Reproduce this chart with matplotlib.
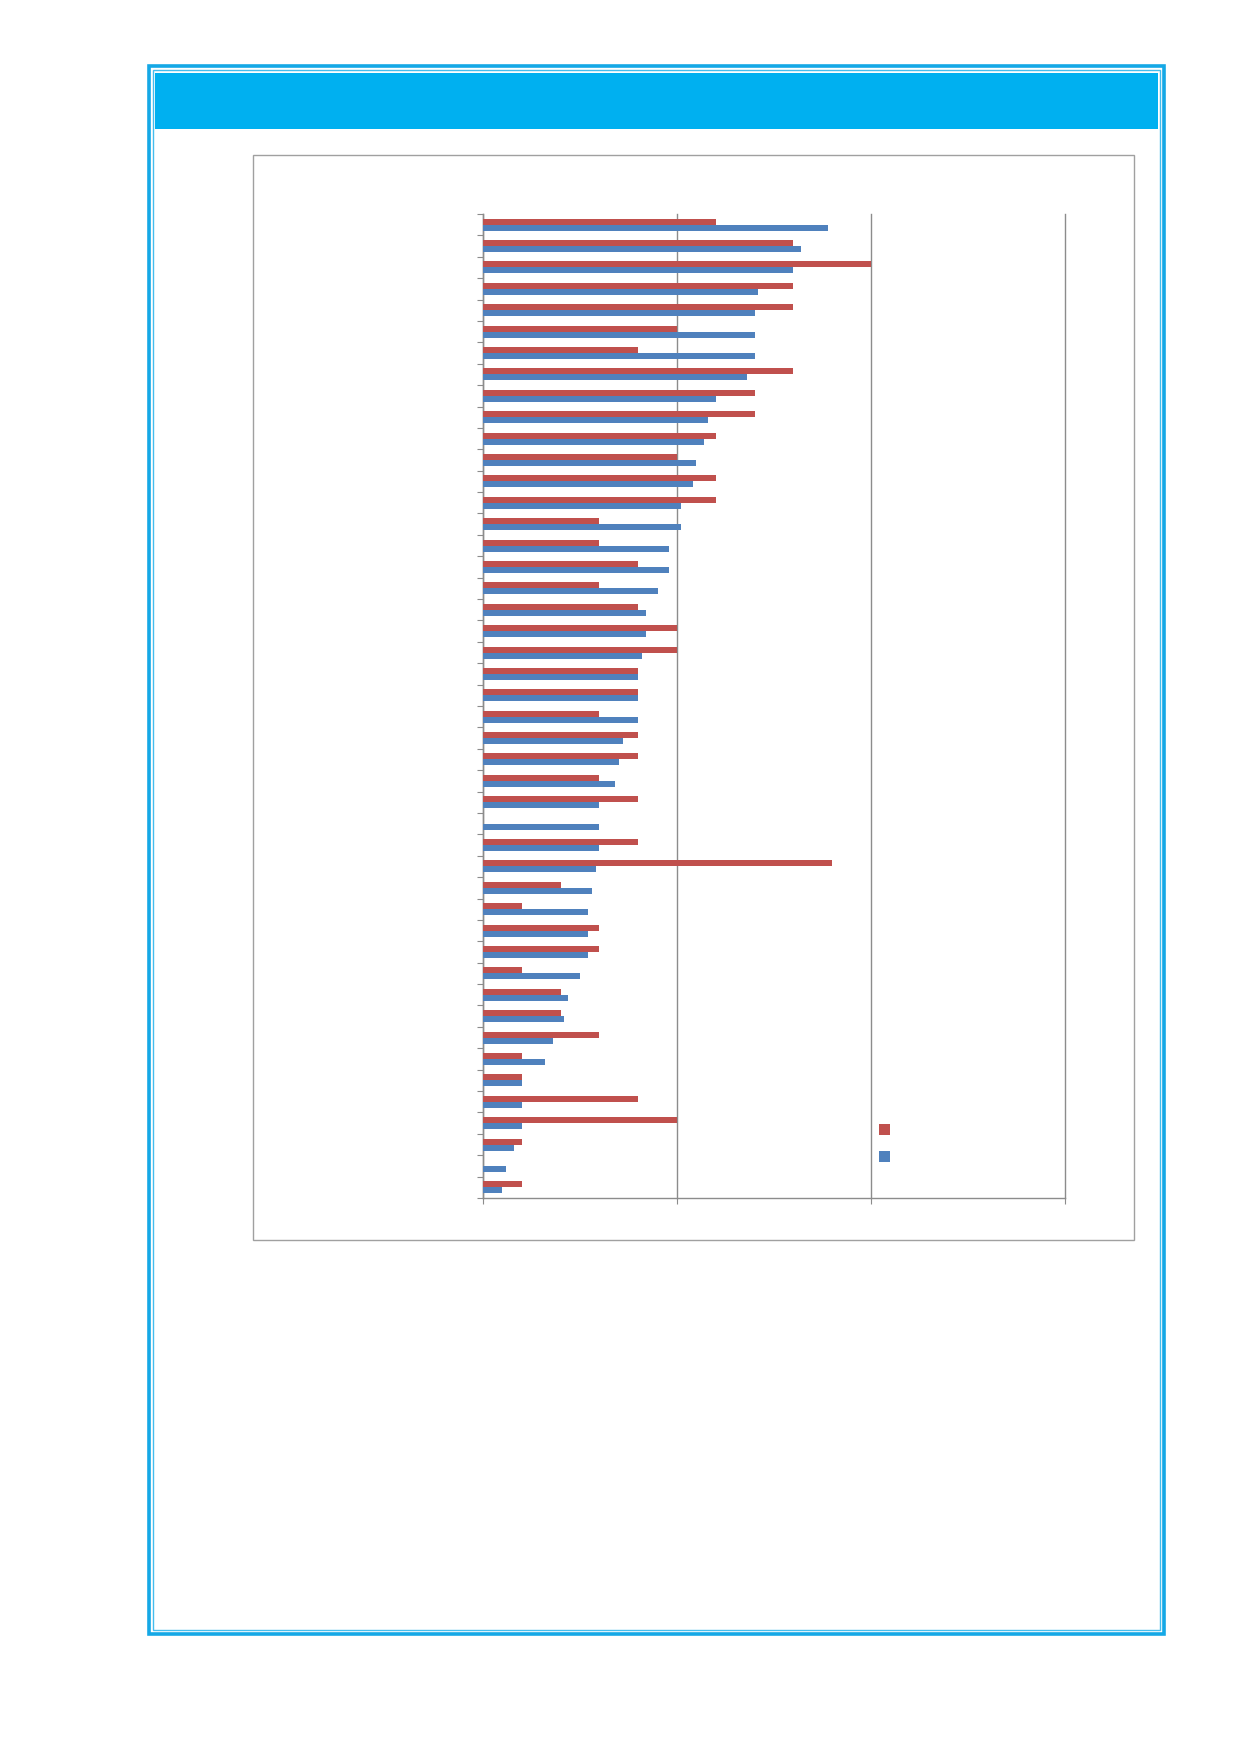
#!/usr/bin/env python3
"""
Paired horizontal bar chart on a framed page with a blue header band.
"""

import numpy as np
import matplotlib
matplotlib.use("Agg")
import matplotlib.pyplot as plt
from matplotlib.patches import Rectangle

# one value per category, top row first
red_values = [6, 8, 10, 8, 8, 5, 4, 8, 7, 7, 6, 5, 6,
              6, 3, 3, 4, 3, 4, 5, 5, 4, 4, 3, 4,
              4, 3, 4, 0, 4, 9, 2, 1, 3, 3, 1,
              2, 2, 3, 1, 1, 4, 5, 1, 0, 1]
blue_values = [8.9, 8.2, 8.0, 7.1, 7.0, 7.0, 7.0, 6.8, 6.0, 5.8, 5.7, 5.5, 5.4,
               5.1, 5.1, 4.8, 4.8, 4.5, 4.2, 4.2, 4.1, 4.0, 4.0, 4.0, 3.6,
               3.5, 3.4, 3.0, 3.0, 3.0, 2.9, 2.8, 2.7, 2.7, 2.7, 2.5,
               2.2, 2.1, 1.8, 1.6, 1.0, 1.0, 1.0, 0.8, 0.6, 0.5]
x_ticks = [0, 5, 10, 15]

RED = '#C0504D'
BLUE = '#4F81BD'
GREY = '#8C8C8C'
W, H = 1240, 1754


def fx(x):
    return x / W


def fy(y):
    return 1 - y / H


def page_decor(fig):
    """Blue page frame, header band and the grey chart box."""
    # outer thick frame + inner thin frame
    fig.add_artist(Rectangle((fx(149), fy(1634)), fx(1164) - fx(149), fy(66.5) - fy(1634),
                             transform=fig.transFigure, fill=False,
                             edgecolor='#14A8E6', linewidth=2.6))
    fig.add_artist(Rectangle((fx(152.5), fy(1630)), fx(1160.3) - fx(152.5), fy(70) - fy(1630),
                             transform=fig.transFigure, fill=False,
                             edgecolor='#45BDEE', linewidth=1.0))
    # header band
    fig.add_artist(Rectangle((fx(155), fy(128.7)), fx(1158) - fx(155), fy(73.3) - fy(128.7),
                             transform=fig.transFigure, facecolor='#00B0F0',
                             edgecolor='none'))
    # chart area box
    fig.add_artist(Rectangle((fx(253), fy(1240)), fx(1134) - fx(253), fy(155) - fy(1240),
                             transform=fig.transFigure, fill=False,
                             edgecolor='#A0A0A0', linewidth=1.0))
    # legend keys (no text in the source)
    fig.add_artist(Rectangle((fx(879), fy(1135.3)), 11 / W, 11 / H,
                             transform=fig.transFigure, facecolor=RED, edgecolor='none'))
    fig.add_artist(Rectangle((fx(879), fy(1162)), 11 / W, 11 / H,
                             transform=fig.transFigure, facecolor=BLUE, edgecolor='none'))


def main():
    fig = plt.figure(figsize=(W / 100, H / 100), dpi=100)
    fig.patch.set_facecolor('white')

    page_decor(fig)

    ax = fig.add_axes([fx(483), fy(1198), fx(1065) - fx(483), fy(214) - fy(1198)])
    n = len(red_values)
    rows = np.arange(n)

    ax.barh(rows + 0.36, red_values, height=0.28, color=RED, zorder=3)
    ax.barh(rows + 0.64, blue_values, height=0.28, color=BLUE, zorder=3)

    ax.set_xlim(x_ticks[0], x_ticks[-1])
    ax.set_ylim(n, 0)

    ax.set_xticks(x_ticks)
    ax.set_yticks(np.arange(n + 1))
    ax.set_xticklabels([])
    ax.set_yticklabels([])
    ax.tick_params(axis='both', direction='out', length=4.5, width=0.8, color=GREY)

    ax.set_axisbelow(True)
    ax.grid(axis='x', color=GREY, linewidth=1.0)
    ax.grid(axis='y', visible=False)
    # keep the last gridline (at the right edge) fully visible
    for line in ax.get_xgridlines():
        line.set_clip_on(False)
    for side in ('top', 'right'):
        ax.spines[side].set_visible(False)
    for side in ('left', 'bottom'):
        ax.spines[side].set_color(GREY)
        ax.spines[side].set_linewidth(1.0)
    ax.patch.set_alpha(0)

    fig.savefig('out.png', dpi=100)


if __name__ == "__main__":
    main()
